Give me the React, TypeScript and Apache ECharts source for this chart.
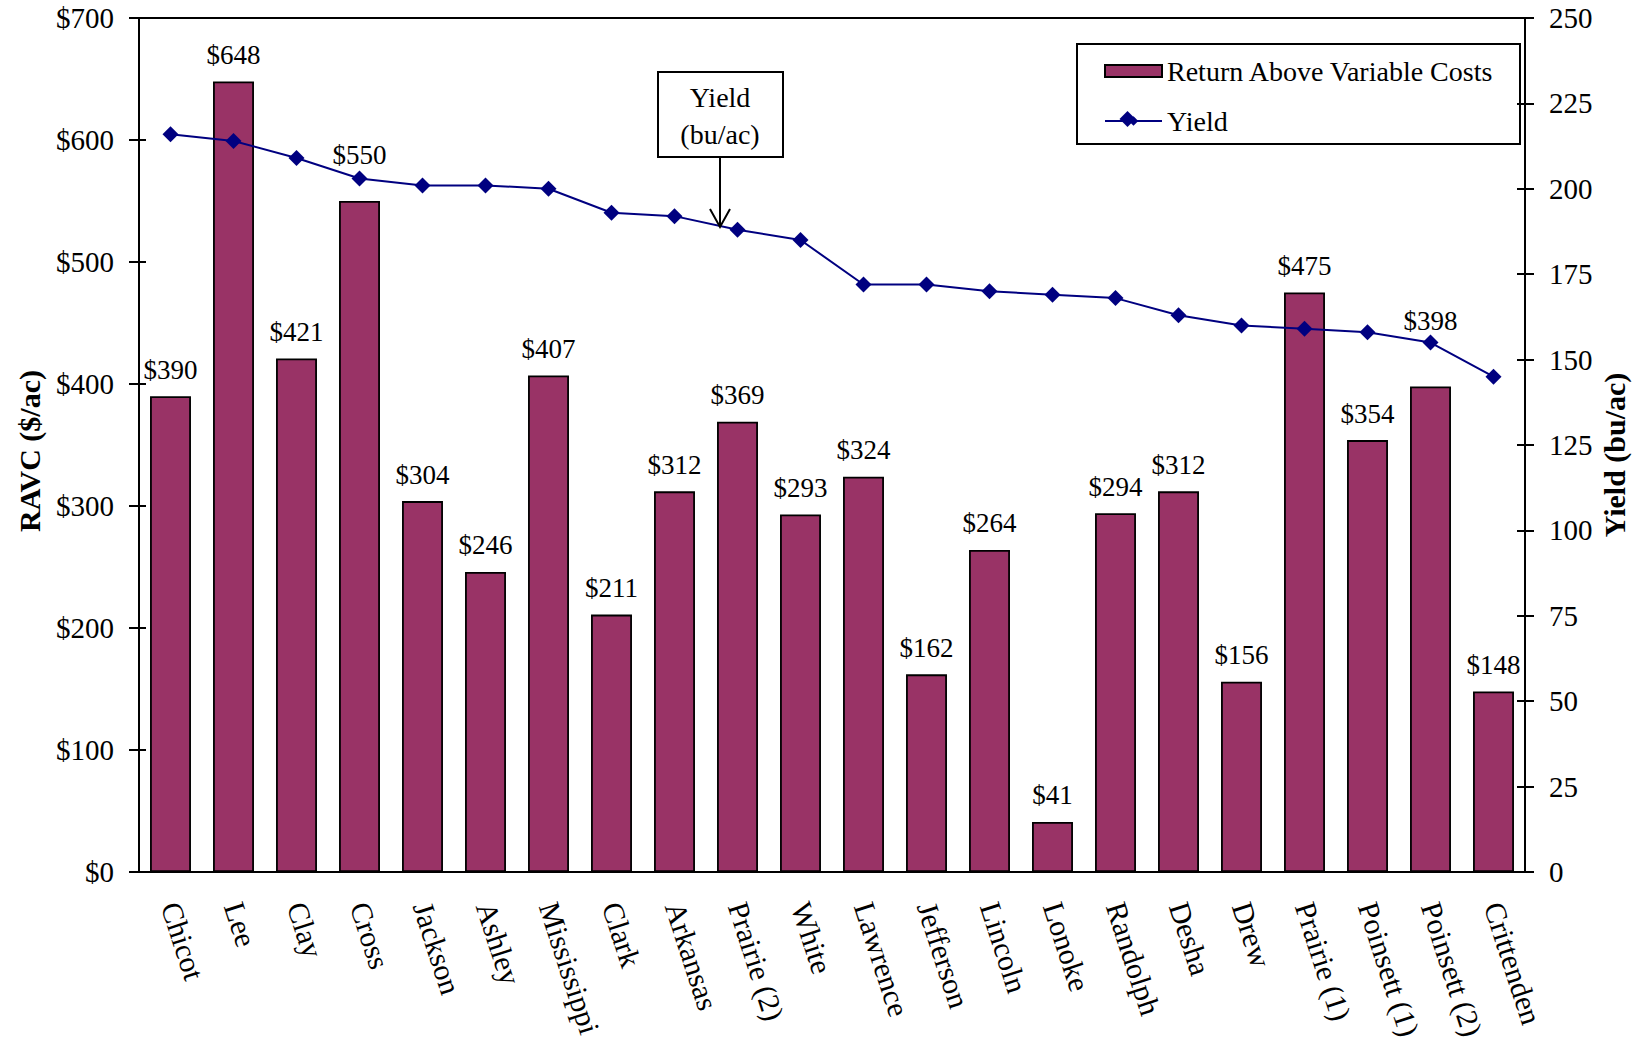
import React, { useEffect, useRef } from "react";
import * as echarts from "echarts";

const categories = [
  "Chicot", "Lee", "Clay", "Cross", "Jackson", "Ashley", "Mississippi", "Clark",
  "Arkansas", "Prairie (2)", "White", "Lawrence", "Jefferson", "Lincoln", "Lonoke",
  "Randolph", "Desha", "Drew", "Prairie (1)", "Poinsett (1)", "Poinsett (2)", "Crittenden",
];
const ravc = [390, 648, 421, 550, 304, 246, 407, 211, 312, 369, 293, 324, 162, 264, 41, 294, 312, 156, 475, 354, 398, 148];
const yieldValues = [216, 214, 209, 203, 201, 201, 200, 193, 192, 188, 185, 172, 172, 170, 169, 168, 163, 160, 159, 158, 155, 145];
const ravcAxis = { min: 0, max: 700, interval: 100 };
const yieldAxis = { min: 0, max: 250, interval: 25 };
// labels moved up in the original to clear the yield line
const raisedLabels: Record<string, number> = { Cross: 20, "Poinsett (2)": 39 };

const FONT = "'Liberation Serif', 'Times New Roman', serif";

export default function App() {
  const ref = useRef<HTMLDivElement>(null);
  useEffect(() => {
    document.body.style.margin = "0";
    const chart = echarts.init(ref.current!, null, { renderer: "svg" });
    const txt = (size: number) => ({ fontFamily: FONT, fontSize: size, color: "#000" });
    const barData = ravc.map((v, i) => {
      const lift = raisedLabels[categories[i]];
      return lift ? { value: v, label: { offset: [0, -lift] } } : v;
    });
    const tickStyle = { color: "#000", width: 2 };
    chart.setOption({
      animation: false,
      backgroundColor: "#fff",
      textStyle: { fontFamily: FONT },
      grid: {
        left: 139, right: 115, top: 18, bottom: 177,
        show: true, borderColor: "#000", borderWidth: 2, backgroundColor: "transparent",
      },
      legend: {
        orient: "vertical",
        left: 1099, top: 51,
        itemWidth: 57, itemHeight: 12, itemGap: 20,
        textStyle: { ...txt(28), lineHeight: 30 },
        data: [
          { name: "Return Above Variable Costs", icon: "rect", itemStyle: { borderColor: "#000", borderWidth: 2 } },
          { name: "Yield" },
        ],
      },
      xAxis: {
        type: "category",
        data: categories,
        axisLine: { lineStyle: { color: "#000", width: 2 } },
        axisTick: { show: false },
        axisLabel: { ...txt(30), rotate: -72, margin: 31, interval: 0 },
      },
      yAxis: [
        {
          type: "value", position: "left", ...ravcAxis,
          axisLine: { show: true, lineStyle: { color: "#000", width: 2 } },
          axisTick: { show: true, length: 10, lineStyle: tickStyle },
          axisLabel: { ...txt(29), margin: 25, formatter: (v: number) => "$" + v },
          splitLine: { show: false },
        },
        {
          type: "value", position: "right", ...yieldAxis,
          axisLine: { show: true, lineStyle: { color: "#000", width: 2 } },
          axisTick: { show: true, length: 9, lineStyle: tickStyle },
          axisLabel: { ...txt(29), margin: 24 },
          splitLine: { show: false },
        },
        {
          type: "value", position: "left", ...ravcAxis,
          axisLine: { show: false },
          axisTick: { show: true, inside: true, length: 7, lineStyle: tickStyle },
          axisLabel: { show: false },
          splitLine: { show: false },
        },
        {
          type: "value", position: "right", ...yieldAxis,
          axisLine: { show: false },
          axisTick: { show: true, inside: true, length: 8, lineStyle: tickStyle },
          axisLabel: { show: false },
          splitLine: { show: false },
        },
      ],
      series: [
        {
          name: "Return Above Variable Costs",
          type: "bar",
          data: barData,
          yAxisIndex: 0,
          barCategoryGap: "35%",
          itemStyle: { color: "#993366", borderColor: "#000", borderWidth: 1.8 },
          label: {
            show: true, position: "top", distance: 13, ...txt(27),
            formatter: (p: any) => "$" + p.value,
          },
          z: 2,
        },
        {
          name: "Yield",
          type: "line",
          data: yieldValues,
          yAxisIndex: 1,
          symbol: "diamond",
          symbolSize: 16,
          lineStyle: { color: "#000080", width: 2 },
          itemStyle: { color: "#000080" },
          z: 5,
        },
      ],
      graphic: [
        {
          type: "rect", shape: { x: 1077, y: 44, width: 443, height: 100 },
          style: { fill: "none", stroke: "#000", lineWidth: 2 }, z: 10,
        },
        {
          type: "polygon", z: 12,
          shape: { points: [[1127.5, 111], [1135.5, 119], [1127.5, 127], [1119.5, 119]] },
          style: { fill: "#000080" },
        },
        {
          type: "rect", shape: { x: 658, y: 72, width: 125, height: 85 },
          style: { fill: "#fff", stroke: "#000", lineWidth: 2 }, z: 10,
        },
        {
          type: "text", x: 720, y: 97, z: 11,
          style: { text: "Yield", font: "28px " + FONT, fill: "#000", align: "center", verticalAlign: "middle" },
        },
        {
          type: "text", x: 720, y: 134, z: 11,
          style: { text: "(bu/ac)", font: "28px " + FONT, fill: "#000", align: "center", verticalAlign: "middle" },
        },
        {
          type: "line", shape: { x1: 720, y1: 157, x2: 720, y2: 227 }, z: 11,
          style: { stroke: "#000", lineWidth: 2 },
        },
        {
          type: "polyline", shape: { points: [[710, 209], [720, 227], [730, 209]] }, z: 11,
          style: { stroke: "#000", lineWidth: 2, fill: "none" },
        },
        {
          type: "text", x: 29, y: 451, rotation: Math.PI / 2, z: 11,
          style: { text: "RAVC ($/ac)", font: "bold 30px " + FONT, fill: "#000", align: "center", verticalAlign: "middle" },
        },
        {
          type: "text", x: 1614, y: 455, rotation: Math.PI / 2, z: 11,
          style: { text: "Yield (bu/ac)", font: "bold 30px " + FONT, fill: "#000", align: "center", verticalAlign: "middle" },
        },
      ],
    });
    return () => chart.dispose();
  }, []);
  return <div ref={ref} style={{ position: "fixed", left: 0, top: 0, width: 1640, height: 1049 }} />;
}
